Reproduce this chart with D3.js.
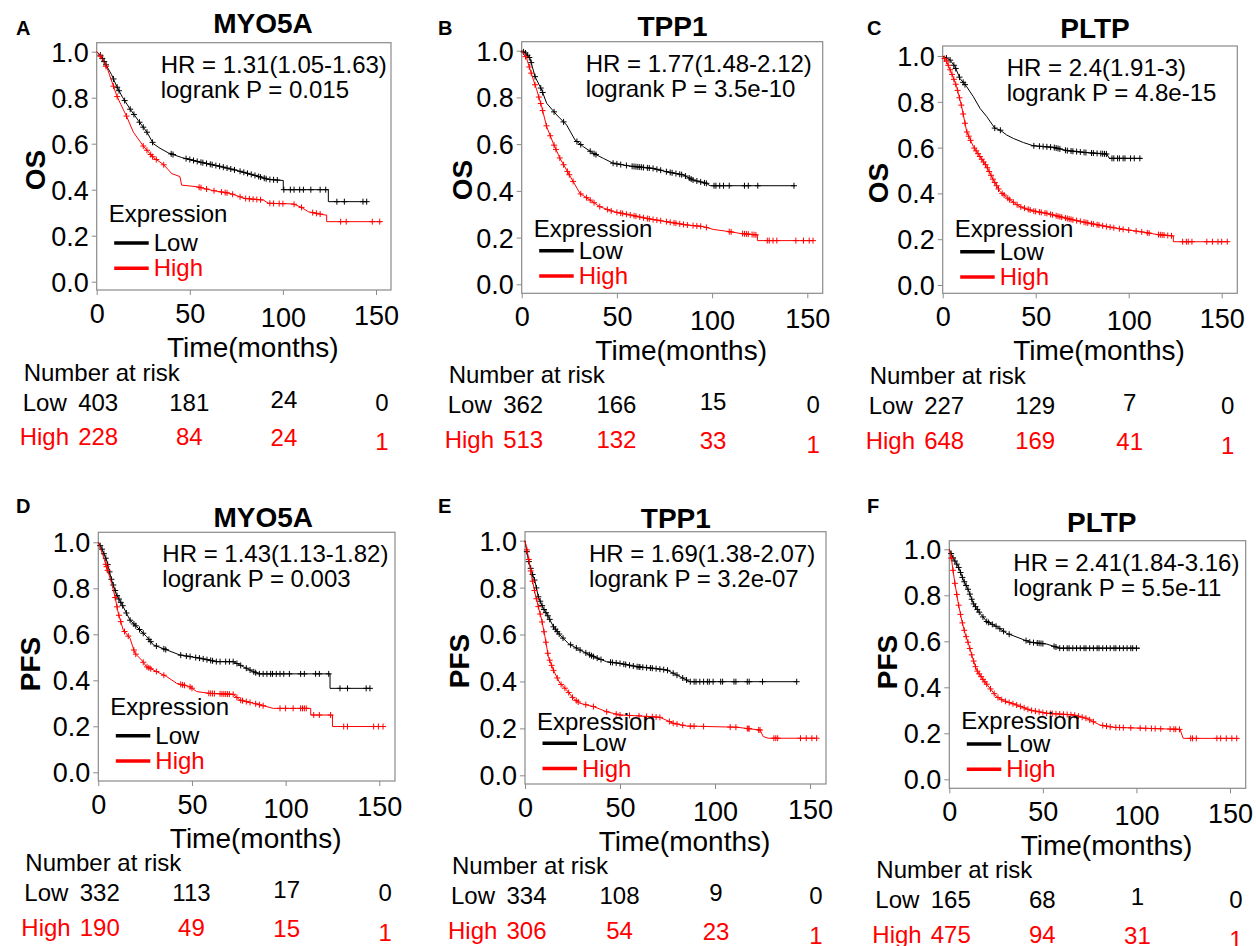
<!DOCTYPE html>
<html><head><meta charset="utf-8">
<script src="https://cdn.jsdelivr.net/npm/d3@7"></script>
<style>body{margin:0;background:#fff}svg{display:block}text{font-family:"Liberation Sans",Arial,sans-serif}</style>
</head><body><svg id="c" width="1256" height="946"></svg>
<script>
// ---------------- DATA ----------------
const xTicks = [0, 50, 100, 150];
const yTicks = [0, 0.2, 0.4, 0.6, 0.8, 1.0];
const panelLetters = ["A","B","C","D","E","F"];
const geneNames = ["MYO5A","TPP1","PLTP","MYO5A","TPP1","PLTP"];
const endpoints = ["OS","OS","OS","PFS","PFS","PFS"];
const hrLabels = ["HR = 1.31(1.05-1.63)","HR = 1.77(1.48-2.12)","HR = 2.4(1.91-3)","HR = 1.43(1.13-1.82)","HR = 1.69(1.38-2.07)","HR = 2.41(1.84-3.16)"];
const pLabels = ["logrank P = 0.015","logrank P = 3.5e-10","logrank P = 4.8e-15","logrank P = 0.003","logrank P = 3.2e-07","logrank P = 5.5e-11"];
const groupNames = ["Low","High"];
const riskTimes = [0, 50, 100, 150];
const riskLow = [[403,181,24,0],[362,166,15,0],[227,129,7,0],[332,113,17,0],[334,108,9,0],[165,68,1,0]];
const riskHigh = [[228,84,24,1],[513,132,33,1],[648,169,41,1],[190,49,15,1],[306,54,23,1],[475,94,31,1]];

// survival curves [months, survival]
const lowA = [[0,1],[2,0.985],[4.5,0.95],[8,0.9],[10.7,0.85],[14,0.8],[18,0.75],[22.4,0.7],[27,0.65],[30.4,0.6],[34,0.58],[38.5,0.56],[45.6,0.54],[55.5,0.52],[67,0.5],[77,0.48],[86,0.46],[92,0.445],[100.2,0.44],[100.2,0.40],[124.4,0.40],[124.4,0.348],[145,0.348]];
const highA = [[0,1],[3,0.97],[6,0.92],[9,0.85],[10.7,0.81],[13,0.77],[16,0.72],[19.7,0.65],[25,0.59],[30.4,0.54],[35.8,0.51],[40.3,0.47],[44.7,0.457],[45.6,0.42],[53.7,0.413],[62.6,0.396],[71.6,0.384],[79.6,0.362],[89.5,0.355],[92.2,0.341],[105.6,0.338],[110,0.323],[113.7,0.304],[122.6,0.29],[123.5,0.29],[123.5,0.261],[153,0.261]];
const lowB = [[0,1],[2,0.99],[4.4,0.967],[7,0.889],[10.5,0.832],[13.1,0.775],[18.4,0.725],[23.6,0.682],[28,0.618],[32.4,0.589],[37.6,0.561],[42.9,0.539],[48.1,0.518],[56.9,0.506],[69.1,0.496],[76.1,0.482],[84.9,0.468],[90.1,0.446],[97.1,0.432],[98.9,0.422],[143.5,0.422]];
const highB = [[0,1],[2.6,0.967],[5.3,0.896],[7.9,0.832],[10.5,0.76],[13.1,0.675],[16.6,0.603],[20.1,0.539],[23.6,0.489],[27.1,0.439],[30.6,0.389],[35.9,0.361],[41.1,0.332],[48.1,0.311],[56.9,0.297],[65.6,0.282],[76.1,0.268],[86.6,0.254],[95.4,0.247],[100.6,0.235],[109.4,0.225],[114.6,0.218],[123.8,0.211],[123.8,0.187],[153.2,0.187]];
const lowC = [[0,1],[3.9,0.983],[6.6,0.953],[9.3,0.902],[12.9,0.866],[16.5,0.822],[20.1,0.771],[23.7,0.735],[28.1,0.684],[30.8,0.677],[34.4,0.655],[38,0.64],[43.4,0.622],[48.7,0.608],[59.5,0.601],[66.7,0.587],[77.4,0.578],[88.2,0.572],[89.6,0.553],[107,0.553]];
const highC = [[0,1],[2.2,0.975],[4.8,0.924],[7.5,0.866],[10.2,0.779],[12.9,0.67],[16.5,0.604],[20.1,0.56],[23.7,0.517],[27.2,0.459],[30.8,0.408],[36.2,0.371],[41.6,0.342],[48.7,0.323],[55.9,0.313],[63.1,0.298],[70.3,0.284],[79.2,0.269],[88.2,0.255],[97.1,0.243],[106.1,0.233],[115,0.221],[124,0.214],[124,0.189],[153.6,0.189]];
const lowD = [[0,1],[1.8,0.974],[4.4,0.923],[7.1,0.836],[9.8,0.771],[13.3,0.72],[16.9,0.662],[20.5,0.633],[25.8,0.59],[29.4,0.554],[36.5,0.532],[43.6,0.51],[54.3,0.496],[63.2,0.481],[72.1,0.481],[77.4,0.459],[82.7,0.438],[85.4,0.428],[123.7,0.428],[123.7,0.365],[145,0.365]];
const highD = [[0,1],[2.7,0.938],[4.4,0.894],[7.1,0.822],[8.9,0.764],[10.7,0.691],[13.3,0.619],[16.9,0.583],[19.6,0.517],[23.1,0.488],[25.8,0.459],[31.1,0.438],[36.5,0.416],[41.8,0.387],[48.9,0.372],[52.5,0.351],[59.6,0.343],[72.1,0.339],[75.6,0.314],[84.5,0.297],[93.4,0.278],[113.4,0.278],[113.4,0.249],[125,0.249],[125,0.199],[153,0.199]];
const lowE = [[0,1],[1.75,0.918],[3.5,0.868],[5.3,0.825],[7,0.761],[9.6,0.712],[12.3,0.676],[14.9,0.634],[18.4,0.598],[22.8,0.562],[28.9,0.534],[36,0.506],[43,0.484],[50,0.477],[58.8,0.463],[67.5,0.456],[74.6,0.449],[79.8,0.428],[85.1,0.406],[86.8,0.399],[143,0.399]];
const highE = [[0,1],[1.75,0.932],[3.5,0.847],[5.3,0.776],[7,0.719],[8.8,0.662],[10.5,0.591],[12.3,0.506],[14.9,0.449],[18.4,0.392],[21.9,0.364],[25.4,0.328],[28.9,0.307],[36,0.293],[43,0.271],[50,0.257],[60.5,0.253],[71,0.247],[78,0.222],[85.1,0.21],[111.4,0.205],[123.7,0.193],[125.4,0.165],[128,0.158],[153.5,0.158]];
const lowF = [[0,1],[2.1,0.961],[4.8,0.925],[7.5,0.867],[10.2,0.823],[12.8,0.765],[16.4,0.722],[20,0.686],[25.3,0.664],[30.6,0.635],[37.8,0.613],[43.1,0.596],[52,0.588],[59.1,0.57],[101.9,0.57]];
const highF = [[0,1],[1.2,0.954],[3,0.852],[4.8,0.765],[6.6,0.693],[8.4,0.635],[10.2,0.591],[12.8,0.519],[14.6,0.475],[18.2,0.432],[21.7,0.396],[25.3,0.359],[28.9,0.342],[36,0.323],[43.1,0.301],[52,0.287],[66.3,0.28],[73.4,0.265],[80.5,0.236],[87.7,0.226],[123.3,0.217],[125,0.178],[153.6,0.178]];

// censoring times (months)
const censLowA = [2,3,4,5,9,11,12,15,18,20,23,25,27,30,40,41,48,50,52,54,56,57,59,61,62,64,66,68,70,72,74,77,79,81,83,85,87,88,90,91,93,95,97,100.5,104,106,109,111,115,120,123,129,133,143,145];
const censHighA = [2,5,9,11,16,25,27,29,30,32,36,55,56,59,63,67,69,70,73,77,80,82,84,86,88,93,95,98,100,106,110,116,118,120,131,134,148,152];
const censLowB = [1,2,3,4,5,7,10,11,17,22,29,31,36,38,39,48,50,52,55,58,59,60,61,62,63,64,66,67,69,71,73,76,78,79,81,83,84,86,88,89,90,92,94,96,97,101,102,104,106,109,117,119,124,143];
const censHighB = [2,4,5,7,9,10,11,13,15,17,18,20,22,24,25,27,31,34,36,38,41,45,47,50,52,53,55,57,59,60,62,64,66,67,69,71,73,76,78,80,81,83,85,87,90,92,94,97,109,110,116,117,118,119,121,122,123,129,130,132,134,144,148,151,153];
const censLowC = [2,4,6,7,9,11,12,28,31,49,52,54,56,58,60,61,62,63,66,67,69,70,72,74,76,77,80,81,83,85,86,87,88,91,92,94,95,97,98,101,103,106];
const censHighC = [1,2,3,4,5,6,7,8,9,10,11,12,13,14,15,17,18,19,20,21,22,23,24,25,26,27,28,29,30,32,33,35,36,38,40,42,44,46,47,49,50,52,53,55,56,58,59,61,62,63,64,66,67,68,69,70,72,74,76,77,78,80,81,83,84,86,88,90,92,95,97,100,104,107,110,111,116,117,118,119,121,123,129,131,132,134,142,145,148,150,153];
const censLowD = [1,2,3,4,5,6,7,8,9,10,11,12,13,15,17,19,20,22,24,27,28,31,35,36,44,47,49,52,54,56,58,60,61,63,65,68,70,72,74,76,79,81,83,84,86,88,90,92,93,95,97,99,102,108,110,116,118,123,129,133,143,145];
const censHighD = [4,4.4,5,9,10,11,12,14,16,19,20,24,26,27,28,31,35,44,45,46,49,50,59,60,61,62,65,66,67,68,69,70,72,74,76,77,79,81,84,86,88,97,100,104,108,109,110,111,115,118,124,131,133,147,149.5,152];
const censLowE = [1,2,3,4,5,6,7,8,9,10,11,12,13,15,16,17,18,20,24,27,29,32,34,35,36,38,40,45,46,48,50,52,53,55,57,59,60,60.5,62,64,66,67,69,71,73,75,78,80,83,85,87,89,90,92,94,96,97,99,103,104,110,111,117,118,125,143];
const censHighE = [1,2,3,4,5,6,7,8,9,10,11,12,13,14,15,17,19,21,23,25,27,28,32,36,43,48,50,55,60,64,67,69,71,76,78,80,83,87,89,94,108,111,117,117.5,118,123,123.7,131,132,133,145,148,151,153.5];
const censLowF = [1,2,3,4,5,6,7,8,9,10,11,12,13,14,15,16,18,20,21,23,25,27,29,32,41,43,45,47,48,49,50,56,57,59,61,63,64,66,68,70,72,73,75,77,79,80,82,84,86,88,89,91,93,95,97,98,100,102];
const censHighF = [1,2,3,4,5,6,7,8,9,10,11,12,13,14,15,16,17,18,19,20,22,24,26,28,30,32,34,36,38,40,42,44,46,48,50,52,54,55,57,59,61,63,65,67,69,71,73,75,77,82,84,86,89,91,93,97,102,105,108,110,113,118,120,121,123,129,130,132,143,145,148,151,153.6];

const lowCurves = [lowA, lowB, lowC, lowD, lowE, lowF];
const highCurves = [highA, highB, highC, highD, highE, highF];
const lowCens = [censLowA, censLowB, censLowC, censLowD, censLowE, censLowF];
const highCens = [censHighA, censHighB, censHighC, censHighD, censHighE, censHighF];

// ---------------- LAYOUT (pixels) ----------------
const layout = [
  {x0:96.7, x150:376,   y1:51.7,  y0:281.7, R:391,    T:42.7,  B:290,   tx:263,    ty:33.3,  lx:16,  ly:35,  ylx:45,    yly:170, leg:38.7, exp:21.3},
  {x0:521.7,x150:807.3, y1:50.7,  y0:284.3, R:822.7,  T:41.7,  B:293.3, tx:672.5,  ty:36,    lx:438, ly:35,  ylx:471.7, yly:180, leg:33.6, exp:14},
  {x0:942.7,x150:1221.7,y1:56,    y0:285,   R:1237.3, T:46,    B:293.3, tx:1095,   ty:38.3,  lx:867, ly:35,  ylx:887.7, yly:183, leg:33.3, exp:15},
  {x0:98.3, x150:379.3, y1:542.3, y0:772.3, R:395,    T:532.3, B:781,   tx:263.3,  ty:526.7, lx:16,  ly:513, ylx:40,    yly:664, leg:36.6, exp:20.7},
  {x0:525,  x150:810,   y1:540.7, y0:775.3, R:826,    T:531.7, B:784,   tx:675.8,  ty:527.7, lx:438, ly:513, ylx:469,   yly:661, leg:32,   exp:13.3},
  {x0:949.3,x150:1230,  y1:549.3, y0:779.3, R:1245.7, T:540.7, B:788.3, tx:1101.8, ty:531.7, lx:867, ly:513, ylx:896.7, yly:662, leg:35.3, exp:14.7}
];
const RED = "#ff0000", GRID = "#8a8a8a";
const riskDx = [1.5, -0.5, 1, 6], lowDy = [0, 0, -3, 0], highDy = [0, 0, 1, 5], xLabDy = [0, 0, 3.5, 2];

const svg = d3.select("#c");

function survAt(curve, t) {
  for (let j = 0; j < curve.length - 1; j++) {
    const a = curve[j], b = curve[j + 1];
    if (b[0] > a[0] && t >= a[0] && t <= b[0]) return a[1] + (b[1] - a[1]) * (t - a[0]) / (b[0] - a[0]);
  }
  return curve[curve.length - 1][1];
}

layout.forEach((L, i) => {
  const g = svg.append("g");
  const x = d3.scaleLinear().domain([0, 150]).range([L.x0, L.x150]);
  const y = d3.scaleLinear().domain([0, 1]).range([L.y0, L.y1]);

  // panel letter & title
  g.append("text").attr("x", L.lx).attr("y", L.ly).attr("font-size", 20).attr("font-weight", "bold").text(panelLetters[i]);
  g.append("text").attr("x", L.tx).attr("y", L.ty).attr("text-anchor", "middle").attr("font-size", 28).attr("font-weight", "bold").text(geneNames[i]);

  // box
  g.append("rect").attr("x", L.x0).attr("y", L.T).attr("width", L.R - L.x0).attr("height", L.B - L.T)
    .attr("fill", "none").attr("stroke", GRID).attr("stroke-width", 1.2);

  // y axis
  const ya = g.append("g").attr("transform", `translate(${L.x0},0)`)
    .call(d3.axisLeft(y).tickValues(yTicks).tickSize(5).tickPadding(3).tickFormat(d3.format(".1f")));
  ya.select(".domain").remove();
  ya.selectAll("line").attr("stroke", GRID);
  ya.selectAll("text").attr("font-size", 27).attr("fill", "#000").attr("font-family", null).attr("dy", "0.35em");
  ya.attr("font-family", null);

  // x axis
  const xa = g.append("g").attr("transform", `translate(0,${L.B})`)
    .call(d3.axisBottom(x).tickValues(xTicks).tickSize(5).tickPadding(9));
  xa.select(".domain").remove();
  xa.selectAll("line").attr("stroke", GRID);
  xa.attr("font-family", null);
  xa.selectAll("text").attr("font-size", 27).attr("fill", "#000").attr("font-family", null)
    .attr("y", (d, k) => 14 + xLabDy[k]);

  // axis titles
  g.append("text").attr("x", (L.x0 + L.R) / 2 + 9).attr("y", L.B + 67).attr("text-anchor", "middle")
    .attr("font-size", 28).text("Time(months)");
  g.append("text").attr("transform", `translate(${L.ylx},${L.yly}) rotate(-90)`).attr("text-anchor", "middle")
    .attr("font-size", 28).attr("font-weight", "bold").text(endpoints[i]);

  // HR / p text
  g.append("text").attr("x", L.x0 + 64).attr("y", L.T + 30).attr("font-size", 24).text(hrLabels[i]);
  g.append("text").attr("x", L.x0 + 64).attr("y", L.T + 55).attr("font-size", 24).text(pLabels[i]);

  // curves
  const line = d3.line().x(d => x(d[0])).y(d => y(d[1]));
  const series = [
    {curve: lowCurves[i], cens: lowCens[i], color: "#000"},
    {curve: highCurves[i], cens: highCens[i], color: RED}
  ];
  series.forEach(s => {
    g.append("path").datum(s.curve).attr("d", line).attr("fill", "none").attr("stroke", s.color).attr("stroke-width", 1);
    const tEnd = s.curve[s.curve.length - 1][0];
    const pts = s.cens.filter(t => t <= tEnd);
    g.append("g").selectAll("path").data(pts).join("path")
      .attr("d", t => {
        const px = x(t), py = y(survAt(s.curve, t)), h = 3;
        return `M${px - h},${py}H${px + h}M${px},${py - h}V${py + h}`;
      })
      .attr("stroke", s.color).attr("stroke-width", 1).attr("fill", "none");
  });

  // legend
  const lowY = L.y0 - L.leg, highY = lowY + 25.3;
  g.append("text").attr("x", L.x0 + 12).attr("y", lowY - L.exp).attr("font-size", 24).text("Expression");
  [[lowY, "#000", groupNames[0]], [highY, RED, groupNames[1]]].forEach(([ly, c, name]) => {
    g.append("line").attr("x1", L.x0 + 17.5).attr("x2", L.x0 + 52).attr("y1", ly).attr("y2", ly)
      .attr("stroke", c).attr("stroke-width", 3.5);
    g.append("text").attr("x", L.x0 + 57).attr("y", ly + 8).attr("font-size", 24).attr("fill", c).text(name);
  });

  // number at risk
  g.append("text").attr("x", L.x0 - 73).attr("y", L.y0 + 99).attr("font-size", 24).text("Number at risk");
  g.append("text").attr("x", L.x0 - 74).attr("y", L.y0 + 129).attr("font-size", 24).text(groupNames[0]);
  g.append("text").attr("x", L.x0 - 77).attr("y", L.y0 + 163.5).attr("font-size", 24).attr("fill", RED).text(groupNames[1]);
  riskTimes.forEach((t, k) => {
    g.append("text").attr("x", x(t) + riskDx[k]).attr("y", L.y0 + 129 + lowDy[k]).attr("text-anchor", "middle")
      .attr("font-size", 24).text(riskLow[i][k]);
    g.append("text").attr("x", x(t) + riskDx[k]).attr("y", L.y0 + 163.5 + highDy[k]).attr("text-anchor", "middle")
      .attr("font-size", 24).attr("fill", RED).text(riskHigh[i][k]);
  });
});
</script></body></html>
